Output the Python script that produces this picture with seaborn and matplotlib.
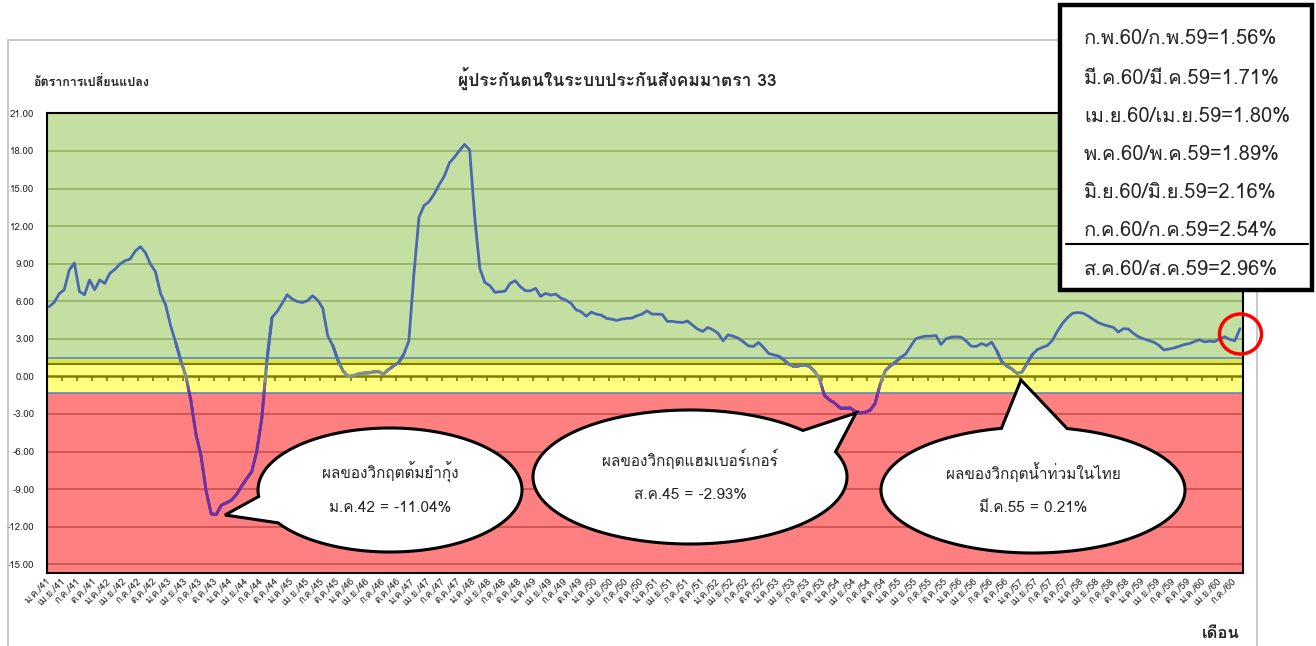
import matplotlib
matplotlib.use('Agg')
import matplotlib.pyplot as plt
import numpy as np
import pandas as pd
import seaborn as sns
from matplotlib import font_manager
from matplotlib.collections import LineCollection
from matplotlib.patches import Rectangle, Polygon, Ellipse
from matplotlib.lines import Line2D

# อัตราการเปลี่ยนแปลงของผู้ประกันตน ม.ค./41 - ส.ค./60 (% รายเดือน)
rate = [
    5.56, 5.90, 6.60, 6.92, 8.50, 9.05, 6.78, 6.52, 7.70, 6.92, 7.70, 7.43,
    8.23, 8.55, 8.97, 9.24, 9.37, 9.99, 10.36, 9.90, 8.97, 8.36, 6.62, 5.72,
    4.04, 2.70, 1.24, 0.04, -1.96, -4.62, -6.36, -9.16, -10.97, -11.04, -10.28, -10.10,
    -9.88, -9.43, -8.76, -8.17, -7.61, -5.96, -3.30, 1.30, 4.70, 5.18, 5.83, 6.52,
    6.17, 5.98, 5.90, 6.04, 6.44, 6.09, 5.46, 3.24, 2.45, 1.30, 0.44, 0.00,
    0.05, 0.19, 0.26, 0.28, 0.36, 0.38, 0.19, 0.55, 0.84, 1.11, 1.77, 2.84,
    8.17, 12.70, 13.64, 13.96, 14.57, 15.32, 15.99, 17.05, 17.50, 18.04, 18.52, 18.09,
    12.70, 8.63, 7.50, 7.24, 6.71, 6.76, 6.81, 7.43, 7.64, 7.16, 6.84, 6.84,
    7.03, 6.39, 6.63, 6.49, 6.57, 6.25, 6.09, 5.83, 5.32, 5.16, 4.81, 5.13,
    4.97, 4.89, 4.63, 4.57, 4.47, 4.57, 4.63, 4.65, 4.84, 4.97, 5.24, 4.97,
    4.97, 4.95, 4.39, 4.39, 4.33, 4.31, 4.41, 4.09, 3.77, 3.59, 3.91, 3.72,
    3.45, 2.84, 3.32, 3.21, 3.05, 2.76, 2.44, 2.39, 2.71, 2.31, 1.83, 1.72,
    1.61, 1.32, 0.97, 0.79, 0.84, 0.92, 0.81, 0.44, -0.15, -1.51, -1.88, -2.12,
    -2.49, -2.49, -2.49, -2.79, -2.93, -2.87, -2.71, -2.17, -0.63, 0.44, 0.84, 1.13,
    1.51, 1.77, 2.39, 3.00, 3.13, 3.21, 3.21, 3.27, 2.55, 3.00, 3.13, 3.16,
    3.13, 2.81, 2.40, 2.40, 2.62, 2.46, 2.73, 2.05, 1.18, 0.83, 0.59, 0.24,
    0.35, 1.05, 1.73, 2.13, 2.32, 2.46, 2.89, 3.62, 4.24, 4.70, 5.05, 5.10,
    5.05, 4.83, 4.57, 4.30, 4.14, 4.02, 3.92, 3.54, 3.81, 3.78, 3.43, 3.16,
    3.00, 2.86, 2.73, 2.48, 2.11, 2.19, 2.27, 2.40, 2.54, 2.62, 2.78, 2.92,
    2.76, 2.81, 2.78, 3.00, 3.16, 2.95, 2.84, 3.81,
]

quarter_months = ['ม.ค.', 'เม.ย.', 'ก.ค.', 'ต.ค.']
years = list(range(41, 61))
tick_labels = [f'{m}/{y}' for y in years for m in quarter_months][:79]

legend_lines = [
    'ก.พ.60/ก.พ.59=1.56%',
    'มี.ค.60/มี.ค.59=1.71%',
    'เม.ย.60/เม.ย.59=1.80%',
    'พ.ค.60/พ.ค.59=1.89%',
    'มิ.ย.60/มิ.ย.59=2.16%',
    'ก.ค.60/ก.ค.59=2.54%',
    'ส.ค.60/ส.ค.59=2.96%',
]

crisis_titles = ['ผลของวิกฤตต้มยำกุ้ง', 'ผลของวิกฤตแฮมเบอร์เกอร์', 'ผลของวิกฤตน้ำท่วมในไทย']
crisis_values = ['ม.ค.42 = -11.04%', 'ส.ค.45 = -2.93%', 'มี.ค.55 = 0.21%']

sns.set_style('white')
names = {f.name for f in font_manager.fontManager.ttflist}
thai = [n for n in ['Loma', 'Noto Sans Thai'] if n in names][:1]
plt.rcParams['font.family'] = thai + ['DejaVu Sans']

W, H = 1316, 646


def fx(x):
    return x / W


def fy(y):
    return 1 - y / H


df = pd.DataFrame({'idx': np.arange(len(rate)), 'rate': rate})

fig = plt.figure(figsize=(W / 100, H / 100), dpi=100)
ax = fig.add_axes([fx(47), fy(573), (1243 - 47) / W, (573 - 113.4) / H])

# พื้นหลังแบ่งโซน
ax.axhspan(1.5, 21, facecolor='#C4DFA2', lw=0, zorder=0.2)
ax.axhspan(-15.7, -1.3, facecolor='#FF8080', lw=0, zorder=0.2)
ax.axhspan(-1.3, 1.5, facecolor='#FFFF80', lw=0, zorder=0.2)
ax.axhspan(1.0, 1.5, facecolor='#DDE74C', lw=0, zorder=0.25)
ax.axhspan(-1.3, 1.5, fill=False, edgecolor='#5B87C9', lw=1.2, zorder=0.6)
ax.axhline(1.0, color='#7F7D00', lw=1.5, zorder=0.7)
ax.axhline(0, color='#7F7D00', lw=1.8, zorder=0.7)
ax.vlines(np.arange(2.5, len(rate), 3), -0.35, 0, color='#7F7D00', lw=1.2, zorder=0.7)

sns.lineplot(data=df, x='idx', y='rate', color='#4A68B2', lw=2.0, ax=ax, zorder=3)

# สีเส้นไล่ระดับตามค่า
ys = np.asarray(rate, dtype=float)
stops = [-1.5, 0.0, 1.5]
rgb = np.array([[112, 48, 160], [140, 152, 128], [74, 104, 178]]) / 255
segs, cols = [], []
for k in range(len(ys) - 1):
    if min(ys[k], ys[k + 1]) >= 1.5:
        continue
    for s in np.linspace(0, 1, 9)[:-1]:
        e = s + 1 / 8
        y0 = ys[k] + s * (ys[k + 1] - ys[k])
        y1 = ys[k] + e * (ys[k + 1] - ys[k])
        segs.append([(k + s, y0), (k + e, y1)])
        m = (y0 + y1) / 2
        cols.append([np.interp(m, stops, rgb[:, c]) for c in range(3)])
ax.add_collection(LineCollection(segs, colors=cols, lw=2.1, capstyle='round', zorder=4))

ax.set_xlim(-0.4, len(rate) - 0.4)
ax.set_ylim(-15.7, 21)
yt = np.arange(-15, 22, 3)
ax.set_yticks(yt)
ax.set_yticklabels([f'{v:.2f}' for v in yt])
ax.grid(axis='y', lw=1.2)
for val, gl in zip(yt, ax.yaxis.get_gridlines()):
    gl.set_color('#93B066' if val > 0 else ('#C94F4F' if val < 0 else 'none'))
ax.set_axisbelow(True)
ax.set_xticks(np.arange(0, len(rate), 3))
ax.set_xticklabels(tick_labels, rotation=45, ha='right', va='center', rotation_mode='anchor')
ax.tick_params(axis='y', length=0, pad=9, labelsize=7)
ax.tick_params(axis='x', length=0, pad=5, labelsize=7)
ax.set_xlabel('')
ax.set_ylabel('')
for sp in ax.spines.values():
    sp.set_color('black')
    sp.set_linewidth(1.5)

# กรอบนอก
fig.add_artist(Rectangle((fx(8), fy(700)), (1257 - 8) / W, (700 - 40) / H, fill=False,
                         edgecolor='#BFBFBF', lw=1.2, transform=fig.transFigure, zorder=0.5))

fig.text(fx(617), fy(78), 'ผู้ประกันตนในระบบประกันสังคมมาตรา 33', ha='center', va='center',
         fontsize=12.5, weight='bold')
fig.text(fx(33), fy(82), 'อัตราการเปลี่ยนแปลง', ha='left', va='center', fontsize=9, weight='bold')
fig.text(fx(1240), fy(633), 'เดือน', ha='right', va='center', fontsize=12, weight='bold')


def bubble(cx, cy, a, b, t1, t2, tip, title, value):
    t = np.radians(np.linspace(t2, t1 + 360, 240))
    pts = [(fx(cx + a * np.cos(q)), fy(cy + b * np.sin(q))) for q in t]
    pts.append((fx(tip[0]), fy(tip[1])))
    fig.add_artist(Polygon(pts, closed=True, facecolor='white', edgecolor='black', lw=2.2,
                           transform=fig.transFigure, zorder=6))
    fig.text(fx(cx), fy(cy - 18), title, ha='center', va='center', fontsize=11, zorder=7)
    fig.text(fx(cx), fy(cy + 18), value, ha='center', va='center', fontsize=11, zorder=7)


bubble(390, 490, 132, 62, 148, 174, (225, 515), crisis_titles[0], crisis_values[0])
bubble(690, 477, 157, 67, -44, -22, (856, 413), crisis_titles[1], crisis_values[1])
bubble(1033, 490, 152, 63, -102, -77, (1021, 380), crisis_titles[2], crisis_values[2])

fig.add_artist(Ellipse((fx(1240.5), fy(334)), 42 / W, 40 / H, fill=False, edgecolor='red',
                       lw=2.5, transform=fig.transFigure, zorder=7))

# กล่องสรุปอัตรา
fig.add_artist(Rectangle((fx(1060), fy(290)), (1312 - 1060) / W, (290 - 5) / H,
                         facecolor='white', edgecolor='black', lw=3.2,
                         transform=fig.transFigure, zorder=8))
for txt, yy in zip(legend_lines, [38, 78, 116, 155, 193, 231, 270]):
    fig.text(fx(1084), fy(yy), txt, ha='left', va='center', fontsize=14.5, zorder=9)
fig.add_artist(Line2D([fx(1066), fx(1308)], [fy(244), fy(244)], color='black', lw=1.5,
                      transform=fig.transFigure, zorder=9))

fig.savefig('out.png', dpi=100)
